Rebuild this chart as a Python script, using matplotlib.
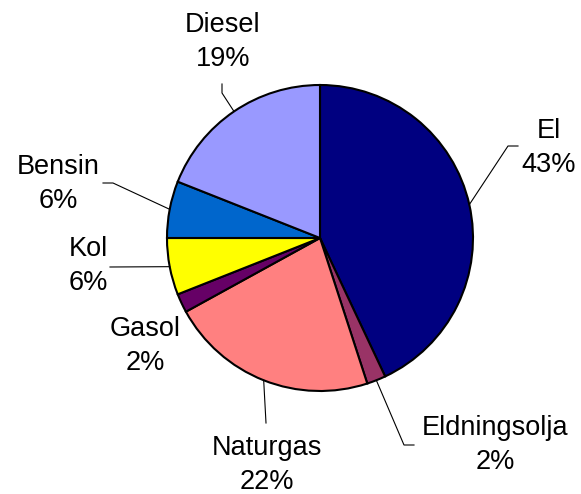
import numpy as np
import matplotlib.pyplot as plt

plt.rcParams['font.family'] = ['Liberation Sans', 'DejaVu Sans']

labels = ['El', 'Eldningsolja', 'Naturgas', 'Gasol', 'Kol', 'Bensin', 'Diesel']
values = [43, 2, 22, 2, 6, 6, 19]
colors = ['#000080', '#993366', '#FF8080', '#660066', '#FFFF00', '#0066CC', '#9999FF']

H = 494
cx, cy, r = 320, H - 238, 153

# label text centre and leader line bend points (pixel coords, y from top)
text_pos = {
    'El': (549, 148), 'Eldningsolja': (495, 445), 'Naturgas': (267, 465),
    'Gasol': (145, 346), 'Kol': (88, 266), 'Bensin': (58, 184), 'Diesel': (223, 42),
}
leaders = {
    'El': [(508, 146), (518, 146)],
    'Eldningsolja': [(404, 445), (414, 445)],
    'Naturgas': [(266, 423)],
    'Gasol': None,
    'Kol': [(110, 267)],
    'Bensin': [(113, 183), (103, 183)],
    'Diesel': [(222, 93), (222, 84)],
}

fig = plt.figure(figsize=(5.81, 4.94), dpi=100)
ax = fig.add_axes([0, 0, 1, 1])
ax.axis('off')

wedges, _ = ax.pie(values, colors=colors, startangle=90, counterclock=False,
                   center=(cx, cy), radius=r,
                   wedgeprops=dict(edgecolor='black', linewidth=1.5))
ax.set_xlim(0, 581)
ax.set_ylim(0, H)
ax.set_aspect('equal')

for w, lab, v in zip(wedges, labels, values):
    tx, ty = text_pos[lab]
    ax.text(tx, H - ty, f'{lab}\n{v}%', ha='center', va='center',
            fontsize=19.5, linespacing=1.38)
    pts = leaders[lab]
    if pts:
        ang = np.deg2rad((w.theta1 + w.theta2) / 2)
        xs = [cx + r * np.cos(ang)] + [p[0] for p in pts]
        ys = [cy + r * np.sin(ang)] + [H - p[1] for p in pts]
        ax.plot(xs, ys, color='black', linewidth=0.8)

plt.savefig('out.png', dpi=100)
